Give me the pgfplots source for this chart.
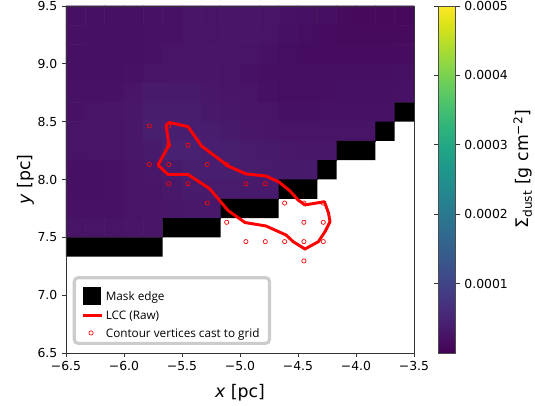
\documentclass[border=0pt]{standalone}
\usepackage{fontspec}
\setmainfont{DejaVu Sans}
\newfontfamily\legfont{Open Sans}
\usepackage{pgfplots}
\pgfplotsset{compat=1.18}
\usepgfplotslibrary{colormaps}
\begin{document}
\begin{tikzpicture}
\begin{axis}[
  name=main,
  scale only axis, width=261pt, height=260.25pt,
  xmin=-6.5, xmax=-3.5, ymin=6.5, ymax=9.5,
  enlargelimits=false,
  axis on top,
  unbounded coords=jump,
  colormap/viridis,
  point meta min=0, point meta max=0.0005,
  xtick={-6.5,-6,-5.5,-5,-4.5,-4,-3.5},
  xticklabels={−6.5,−6.0,−5.5,−5.0,−4.5,−4.0,−3.5},
  ytick={6.5,7,7.5,8,8.5,9,9.5},
  yticklabels={6.5,7.0,7.5,8.0,8.5,9.0,9.5},
  tick align=outside, xtick pos=left, ytick pos=left,
  major tick length=3pt,
  every tick/.style={black!80, line width=0.6pt},
  axis line style={black!80, line width=0.6pt},
  tick label style={font=\fontsize{9.3}{11}\selectfont},
  xlabel={\textit{x} [pc]}, ylabel={\textit{y} [pc]},
  every axis x label/.style={at={(axis description cs:0.5,-0.114)}, anchor=center, font=\fontsize{13}{15}\selectfont},
  every axis y label/.style={at={(axis description cs:-0.116,0.5)}, rotate=90, anchor=center, font=\fontsize{13}{15}\selectfont},
  colorbar,
  colorbar style={
    width=13.3pt,
    at={(parent axis.north east)}, anchor=north west, xshift=9.5pt,
    ytick={0.0001,0.0002,0.0003,0.0004,0.0005},
    yticklabels={0.0001,0.0002,0.0003,0.0004,0.0005},
    scaled y ticks=false,
    tick align=outside, major tick length=3pt,
    every tick/.style={black!80, line width=0.6pt},
    axis line style={black!70, line width=0.6pt},
    yticklabel style={font=\fontsize{9.3}{11}\selectfont},
    ylabel={Σ\textsubscript{dust} [g cm\textsuperscript{−2}]},
    every axis y label/.style={at={(axis description cs:4.78,0.53)}, rotate=90, anchor=center, font=\fontsize{13}{15}\selectfont},
  },
  legend style={at={(axis description cs:0,0)}, anchor=south west, xshift=5pt, yshift=6pt,
    draw=black!20, line width=2.4pt, rounded corners=3pt, fill=white,
    font=\legfont\fontsize{8.8}{10.5}\selectfont,
    inner xsep=5.5pt, inner ysep=2.5pt, row sep=2.5pt,
    nodes={text depth=0pt},
    /tikz/every even column/.append style={column sep=3pt}},
  legend cell align=left,
]
% dust surface density map
\addplot[matrix plot*, mesh/cols=18, point meta=explicit, forget plot] coordinates {
(-6.4167,9.4167) [2.1e-5] (-6.25,9.4167) [2.1e-5] (-6.0833,9.4167) [2.1e-5] (-5.9167,9.4167) [2.1e-5] (-5.75,9.4167) [2.3e-5] (-5.5833,9.4167) [2.3e-5] (-5.4167,9.4167) [2.5e-5] (-5.25,9.4167) [2.5e-5] (-5.0833,9.4167) [2.7e-5] (-4.9167,9.4167) [2.7e-5] (-4.75,9.4167) [2.5e-5] (-4.5833,9.4167) [2.3e-5] (-4.4167,9.4167) [2.1e-5] (-4.25,9.4167) [1.7e-5] (-4.0833,9.4167) [1.3e-5] (-3.9167,9.4167) [1.1e-5] (-3.75,9.4167) [1.1e-5] (-3.5833,9.4167) [1.1e-5]
(-6.4167,9.25) [2.1e-5] (-6.25,9.25) [2.1e-5] (-6.0833,9.25) [2.1e-5] (-5.9167,9.25) [2.1e-5] (-5.75,9.25) [2.3e-5] (-5.5833,9.25) [2.3e-5] (-5.4167,9.25) [2.5e-5] (-5.25,9.25) [2.5e-5] (-5.0833,9.25) [2.7e-5] (-4.9167,9.25) [2.7e-5] (-4.75,9.25) [2.5e-5] (-4.5833,9.25) [2.1e-5] (-4.4167,9.25) [1.7e-5] (-4.25,9.25) [1.5e-5] (-4.0833,9.25) [1.3e-5] (-3.9167,9.25) [1.3e-5] (-3.75,9.25) [1.3e-5] (-3.5833,9.25) [1.3e-5]
(-6.4167,9.0833) [2.1e-5] (-6.25,9.0833) [2.1e-5] (-6.0833,9.0833) [2.1e-5] (-5.9167,9.0833) [2.1e-5] (-5.75,9.0833) [2.3e-5] (-5.5833,9.0833) [2.5e-5] (-5.4167,9.0833) [2.5e-5] (-5.25,9.0833) [2.7e-5] (-5.0833,9.0833) [2.7e-5] (-4.9167,9.0833) [2.5e-5] (-4.75,9.0833) [2.3e-5] (-4.5833,9.0833) [1.7e-5] (-4.4167,9.0833) [1.5e-5] (-4.25,9.0833) [1.5e-5] (-4.0833,9.0833) [1.5e-5] (-3.9167,9.0833) [1.5e-5] (-3.75,9.0833) [1.5e-5] (-3.5833,9.0833) [1.5e-5]
(-6.4167,8.9167) [2.1e-5] (-6.25,8.9167) [2.1e-5] (-6.0833,8.9167) [2.1e-5] (-5.9167,8.9167) [2.3e-5] (-5.75,8.9167) [2.5e-5] (-5.5833,8.9167) [2.7e-5] (-5.4167,8.9167) [2.7e-5] (-5.25,8.9167) [2.7e-5] (-5.0833,8.9167) [2.5e-5] (-4.9167,8.9167) [2.3e-5] (-4.75,8.9167) [1.9e-5] (-4.5833,8.9167) [1.7e-5] (-4.4167,8.9167) [1.7e-5] (-4.25,8.9167) [1.7e-5] (-4.0833,8.9167) [1.9e-5] (-3.9167,8.9167) [1.9e-5] (-3.75,8.9167) [1.9e-5] (-3.5833,8.9167) [2.1e-5]
(-6.4167,8.75) [2.3e-5] (-6.25,8.75) [2.3e-5] (-6.0833,8.75) [2.3e-5] (-5.9167,8.75) [2.7e-5] (-5.75,8.75) [3.4e-5] (-5.5833,8.75) [3.4e-5] (-5.4167,8.75) [3.4e-5] (-5.25,8.75) [3e-5] (-5.0833,8.75) [2.7e-5] (-4.9167,8.75) [2.5e-5] (-4.75,8.75) [2.1e-5] (-4.5833,8.75) [1.7e-5] (-4.4167,8.75) [1.7e-5] (-4.25,8.75) [1.9e-5] (-4.0833,8.75) [2.1e-5] (-3.9167,8.75) [2.1e-5] (-3.75,8.75) [2.1e-5] (-3.5833,8.75) [2.3e-5]
(-6.4167,8.5833) [2.3e-5] (-6.25,8.5833) [2.5e-5] (-6.0833,8.5833) [2.7e-5] (-5.9167,8.5833) [3e-5] (-5.75,8.5833) [3.8e-5] (-5.5833,8.5833) [3.8e-5] (-5.4167,8.5833) [3.8e-5] (-5.25,8.5833) [3.2e-5] (-5.0833,8.5833) [3e-5] (-4.9167,8.5833) [2.7e-5] (-4.75,8.5833) [2.5e-5] (-4.5833,8.5833) [2.1e-5] (-4.4167,8.5833) [2.1e-5] (-4.25,8.5833) [2.3e-5] (-4.0833,8.5833) [2.3e-5] (-3.9167,8.5833) [2.3e-5] (-3.75,8.5833) [2.3e-5] (-3.5833,8.5833) [nan]
(-6.4167,8.4167) [2.5e-5] (-6.25,8.4167) [2.5e-5] (-6.0833,8.4167) [2.5e-5] (-5.9167,8.4167) [3e-5] (-5.75,8.4167) [4e-5] (-5.5833,8.4167) [4.2e-5] (-5.4167,8.4167) [4.2e-5] (-5.25,8.4167) [3.8e-5] (-5.0833,8.4167) [3.4e-5] (-4.9167,8.4167) [3e-5] (-4.75,8.4167) [2.7e-5] (-4.5833,8.4167) [2.5e-5] (-4.4167,8.4167) [2.5e-5] (-4.25,8.4167) [2.5e-5] (-4.0833,8.4167) [2.5e-5] (-3.9167,8.4167) [2.5e-5] (-3.75,8.4167) [nan] (-3.5833,8.4167) [nan]
(-6.4167,8.25) [2.5e-5] (-6.25,8.25) [2.5e-5] (-6.0833,8.25) [2.5e-5] (-5.9167,8.25) [3e-5] (-5.75,8.25) [3.4e-5] (-5.5833,8.25) [4.5e-5] (-5.4167,8.25) [4.5e-5] (-5.25,8.25) [4.2e-5] (-5.0833,8.25) [4e-5] (-4.9167,8.25) [3.6e-5] (-4.75,8.25) [3.4e-5] (-4.5833,8.25) [3.2e-5] (-4.4167,8.25) [3e-5] (-4.25,8.25) [3e-5] (-4.0833,8.25) [nan] (-3.9167,8.25) [nan] (-3.75,8.25) [nan] (-3.5833,8.25) [nan]
(-6.4167,8.0833) [2.1e-5] (-6.25,8.0833) [2.1e-5] (-6.0833,8.0833) [2.3e-5] (-5.9167,8.0833) [2.5e-5] (-5.75,8.0833) [3e-5] (-5.5833,8.0833) [3.4e-5] (-5.4167,8.0833) [4e-5] (-5.25,8.0833) [4.2e-5] (-5.0833,8.0833) [4e-5] (-4.9167,8.0833) [3.8e-5] (-4.75,8.0833) [3.6e-5] (-4.5833,8.0833) [3.4e-5] (-4.4167,8.0833) [3.4e-5] (-4.25,8.0833) [nan] (-4.0833,8.0833) [nan] (-3.9167,8.0833) [nan] (-3.75,8.0833) [nan] (-3.5833,8.0833) [nan]
(-6.4167,7.9167) [2.1e-5] (-6.25,7.9167) [2.1e-5] (-6.0833,7.9167) [2.3e-5] (-5.9167,7.9167) [2.5e-5] (-5.75,7.9167) [2.7e-5] (-5.5833,7.9167) [3.2e-5] (-5.4167,7.9167) [3.6e-5] (-5.25,7.9167) [3.6e-5] (-5.0833,7.9167) [3.6e-5] (-4.9167,7.9167) [3.4e-5] (-4.75,7.9167) [3.4e-5] (-4.5833,7.9167) [nan] (-4.4167,7.9167) [nan] (-4.25,7.9167) [nan] (-4.0833,7.9167) [nan] (-3.9167,7.9167) [nan] (-3.75,7.9167) [nan] (-3.5833,7.9167) [nan]
(-6.4167,7.75) [2.3e-5] (-6.25,7.75) [2.3e-5] (-6.0833,7.75) [2.3e-5] (-5.9167,7.75) [2.5e-5] (-5.75,7.75) [2.7e-5] (-5.5833,7.75) [3e-5] (-5.4167,7.75) [3.2e-5] (-5.25,7.75) [3.2e-5] (-5.0833,7.75) [nan] (-4.9167,7.75) [nan] (-4.75,7.75) [nan] (-4.5833,7.75) [nan] (-4.4167,7.75) [nan] (-4.25,7.75) [nan] (-4.0833,7.75) [nan] (-3.9167,7.75) [nan] (-3.75,7.75) [nan] (-3.5833,7.75) [nan]
(-6.4167,7.5833) [2.5e-5] (-6.25,7.5833) [2.5e-5] (-6.0833,7.5833) [2.5e-5] (-5.9167,7.5833) [2.7e-5] (-5.75,7.5833) [2.7e-5] (-5.5833,7.5833) [nan] (-5.4167,7.5833) [nan] (-5.25,7.5833) [nan] (-5.0833,7.5833) [nan] (-4.9167,7.5833) [nan] (-4.75,7.5833) [nan] (-4.5833,7.5833) [nan] (-4.4167,7.5833) [nan] (-4.25,7.5833) [nan] (-4.0833,7.5833) [nan] (-3.9167,7.5833) [nan] (-3.75,7.5833) [nan] (-3.5833,7.5833) [nan]
};
% mask edge cells
\addplot[fill=black, draw=none,
  legend image code/.code={\fill[black, sharp corners] (0pt,-6.75pt) rectangle (13.5pt,6.75pt); \path (0pt,11.5pt);}] coordinates {
(-6.5,7.3333) (-5.6667,7.3333) (-5.6667,7.5) (-6.5,7.5) (nan,nan)
(-5.6667,7.5) (-5.1667,7.5) (-5.1667,7.6667) (-5.6667,7.6667) (nan,nan)
(-5.1667,7.6667) (-4.6667,7.6667) (-4.6667,7.8333) (-5.1667,7.8333) (nan,nan)
(-4.6667,7.8333) (-4.3333,7.8333) (-4.3333,8.0) (-4.6667,8.0) (nan,nan)
(-4.3333,8.0) (-4.1667,8.0) (-4.1667,8.1667) (-4.3333,8.1667) (nan,nan)
(-4.1667,8.1667) (-3.8333,8.1667) (-3.8333,8.3333) (-4.1667,8.3333) (nan,nan)
(-3.8333,8.3333) (-3.6667,8.3333) (-3.6667,8.5) (-3.8333,8.5) (nan,nan)
(-3.6667,8.5) (-3.5,8.5) (-3.5,8.6667) (-3.6667,8.6667)
};
% LCC contour
\addplot[red, line width=2.2pt, line join=round, mark=none, sharp corners,
  legend image code/.code={\draw[red, line width=2.2pt, sharp corners] (0pt,0pt) -- (14pt,0pt);}] coordinates {
(-5.638,8.471) (-5.608,8.493) (-5.448,8.457) (-5.332,8.290) (-5.216,8.203) (-5.103,8.117)
(-4.948,8.048) (-4.776,8.030) (-4.664,7.978) (-4.569,7.901) (-4.500,7.823) (-4.440,7.780)
(-4.272,7.808) (-4.237,7.710) (-4.224,7.635) (-4.267,7.549) (-4.325,7.462) (-4.440,7.399)
(-4.541,7.462) (-4.603,7.520) (-4.776,7.598) (-4.957,7.628) (-5.103,7.732) (-5.263,7.922)
(-5.448,8.043) (-5.621,8.043) (-5.707,8.125) (-5.612,8.298) (-5.638,8.471)
};
% contour vertices cast to grid
\addplot[only marks, mark=o, mark size=1.6pt, red, mark options={line width=0.5pt},
  legend image code/.code={\draw[red, line width=0.5pt] (6pt,0pt) circle (1.6pt);}] coordinates {
(-5.782,8.463) (-5.615,8.463) (-5.615,8.296) (-5.449,8.296)
(-5.782,8.130) (-5.615,8.130) (-5.282,8.130) (-5.115,8.130)
(-5.615,7.963) (-5.449,7.963) (-4.949,7.963) (-4.782,7.963)
(-5.282,7.796) (-4.615,7.796) (-4.449,7.796) (-4.282,7.796)
(-5.115,7.630) (-4.449,7.630) (-4.282,7.630)
(-4.949,7.463) (-4.782,7.463) (-4.615,7.463) (-4.449,7.463) (-4.282,7.463)
(-4.449,7.296)
};
\legend{Mask edge, LCC (Raw), Contour vertices cast to grid}
\end{axis}
\pgfresetboundingbox
\path[use as bounding box] ([xshift=-49.5pt,yshift=-39.75pt]main.south west) rectangle ([xshift=90.75pt,yshift=4.5pt]main.north east);
\end{tikzpicture}
\end{document}
